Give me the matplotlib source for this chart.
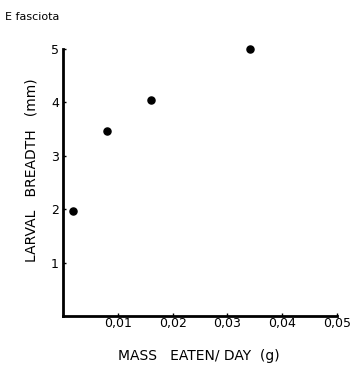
import matplotlib
matplotlib.use("Agg")
import matplotlib.pyplot as plt

mass_eaten = [0.0018, 0.0080, 0.0161, 0.0341]
larval_breadth = [1.97, 3.47, 4.05, 5.0]
x_ticks = [0.01, 0.02, 0.03, 0.04, 0.05]
x_tick_labels = ["0,01", "0,02", "0,03", "0,04", "0,05"]
y_ticks = [1, 2, 3, 4, 5]

plt.rcParams['font.family'] = ['DejaVu Sans']
fig = plt.figure(figsize=(3.55, 3.67), dpi=100)
ax = fig.add_axes([63/355, 1-316/367, (337-63)/355, (316-49)/367])
ax.scatter(mass_eaten, larval_breadth, s=26, color='black', zorder=3, clip_on=False)
ax.set_xlim(0, 0.05)
ax.set_ylim(0, 5)
for s in ['top', 'right']:
    ax.spines[s].set_visible(False)
for s in ['left', 'bottom']:
    ax.spines[s].set_linewidth(2)
ax.set_xticks(x_ticks)
ax.set_xticklabels(x_tick_labels)
ax.set_yticks(y_ticks)
ax.tick_params(axis='both', length=2, width=1, labelsize=9, direction='in')
ax.tick_params(axis='x', pad=1)
ax.tick_params(axis='y', pad=3)
fig.text(199/355, 1-356/367, "MASS   EATEN/ DAY  (g)", fontsize=10, va='center', ha='center')
fig.text(32/355, 1-170/367, "LARVAL   BREADTH   (mm)", fontsize=10, va='center', ha='center', rotation=90)
fig.text(5/355, 1-17/367, "E fasciota", fontsize=8, va='center', ha='left')
fig.savefig("out.png", dpi=100)
